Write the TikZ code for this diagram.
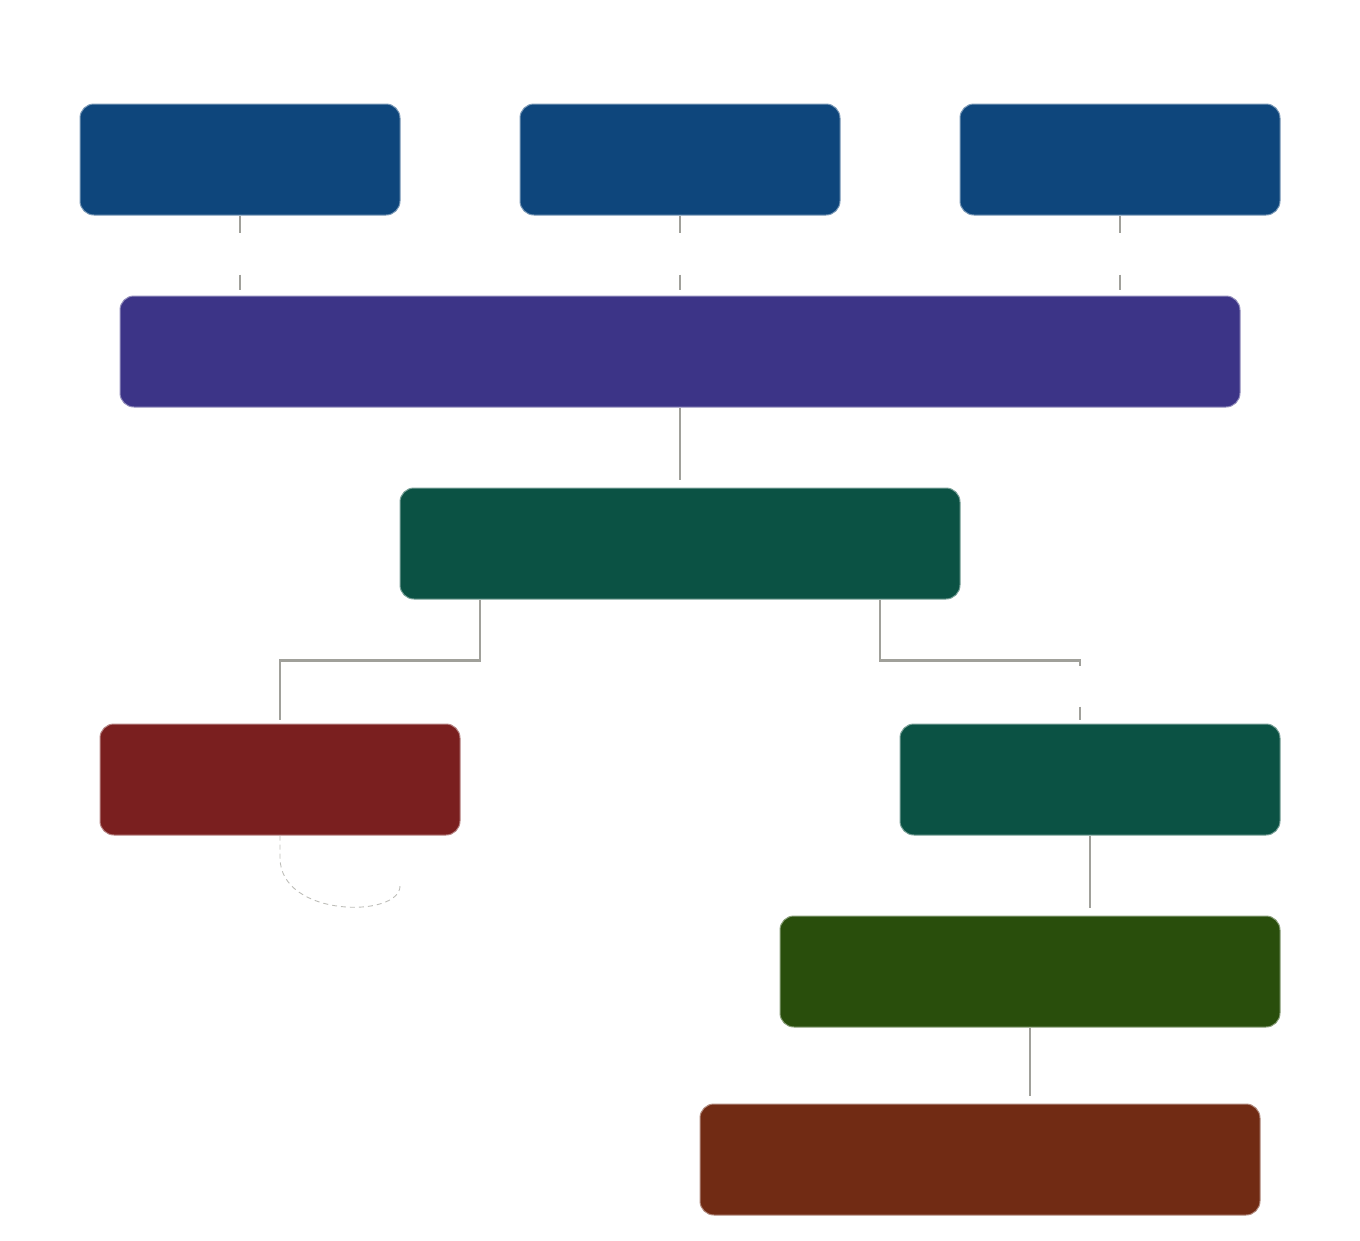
\documentclass[tikz,border=0pt]{standalone}
\definecolor{cblue}{HTML}{0E467C}
\definecolor{cpurple}{HTML}{3C3487}
\definecolor{cgreen}{HTML}{0B5244}
\definecolor{cred}{HTML}{7A1F1F}
\definecolor{colive}{HTML}{294E0C}
\definecolor{cbrown}{HTML}{712B14}
\definecolor{cline}{HTML}{A0A09A}
\tikzset{
  box/.style={rectangle, rounded corners=14pt, inner sep=0pt, minimum height=111pt, line width=1pt},
  bluebox/.style={box, fill=cblue, draw=cblue!55!white, minimum width=320pt},
  conn/.style={draw=cline, line width=2.6pt},
}
\begin{document}
\begin{tikzpicture}[x=1pt,y=-1pt]
\useasboundingbox (0,0) rectangle (1360,1240);
\node[bluebox] (a1) at (240,159.5) {};
\node[bluebox] (a2) at (680,159.5) {};
\node[bluebox] (a3) at (1120,159.5) {};
\node[box, fill=cpurple, draw=cpurple!55!white, minimum width=1120pt] (b) at (680,351.5) {};
\node[box, fill=cgreen, draw=cgreen!55!white, minimum width=560pt] (c) at (680,543.5) {};
\node[box, fill=cred, draw=cred!55!white, minimum width=360pt] (d) at (280,779.5) {};
\node[box, fill=cgreen, draw=cgreen!55!white, minimum width=380pt] (e) at (1090,779.5) {};
\node[box, fill=colive, draw=colive!55!white, minimum width=500pt] (f) at (1030,971.5) {};
\node[box, fill=cbrown, draw=cbrown!55!white, minimum width=560pt] (g) at (980,1159.5) {};

\foreach \n in {a1,a2,a3}{
  \draw[conn, dash pattern=on 17pt off 42pt, shorten >=6pt] (\n.south) -- (\n.south |- b.north);
}
\draw[conn, shorten >=8pt] (b.south) -- (c.north);
\draw[conn, shorten >=4pt] ([xshift=-200pt]c.south) -- ++(0,61) -| (d.north);
\coordinate (etop) at ([xshift=-10pt]e.north);
\draw[conn, dash pattern=on 266pt off 41pt on 20pt, shorten >=4pt] ([xshift=200pt]c.south) -- ++(0,61) -| (etop);
\draw[conn, shorten >=8pt] (e.south) -- (e.south |- f.north);
\draw[conn, shorten >=8pt] (f.south) -- (f.south |- g.north);
\coordinate (loopend) at (400,886);
\draw[draw=cline!70!white, line width=0.9pt, dash pattern=on 5pt off 4pt] (d.south) -- ++(0,22) .. controls (280,918) and (400,918) .. (loopend);
\end{tikzpicture}
\end{document}
